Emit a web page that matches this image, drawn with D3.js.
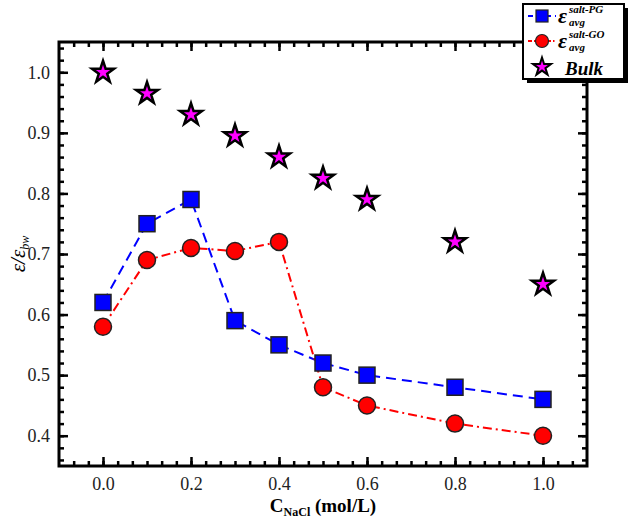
<!DOCTYPE html>
<html><head><meta charset="utf-8">
<script src="https://cdn.jsdelivr.net/npm/d3@7"></script>
<style>body{margin:0;background:#fff}svg{display:block}
svg text{font-family:"Liberation Serif","DejaVu Serif",serif !important}</style>
</head><body>
<svg id="c" width="629" height="520"></svg>
<script>
const xPG = [0, 0.1, 0.2, 0.3, 0.4, 0.5, 0.6, 0.8, 1.0];
const yPG = [0.62, 0.75, 0.79, 0.59, 0.55, 0.52, 0.50, 0.48, 0.46];
const xGO = [0, 0.1, 0.2, 0.3, 0.4, 0.5, 0.6, 0.8, 1.0];
const yGO = [0.58, 0.69, 0.71, 0.705, 0.72, 0.48, 0.45, 0.42, 0.40];
const xBulk = [0, 0.1, 0.2, 0.3, 0.4, 0.5, 0.6, 0.8, 1.0];
const yBulk = [1.0, 0.965, 0.93, 0.895, 0.86, 0.825, 0.79, 0.72, 0.65];
const xTicks = [0, 0.2, 0.4, 0.6, 0.8, 1.0];
const yTicks = [0.4, 0.5, 0.6, 0.7, 0.8, 0.9, 1.0];

const svg = d3.select("#c");
const L = 59, R = 587, T = 42, B = 466;
const x = d3.scaleLinear().domain([-0.1, 1.1]).range([L, R]);
const y = d3.scaleLinear().domain([0.35, 1.05]).range([B, T]);
const font = "Liberation Serif";

const xMinor = d3.range(-0.1, 1.1001, 0.2/6).filter(v => v > -0.099 && v < 1.099);
const yMinor = d3.range(0.36, 1.0401, 0.02);

// bottom
const gb = svg.append("g").attr("transform", `translate(0,${B})`);
gb.call(d3.axisTop(x).tickValues(xMinor).tickSize(5).tickFormat(""));
gb.append("g").call(d3.axisTop(x).tickValues(xTicks).tickSize(9).tickFormat(""));
svg.append("g").attr("transform", `translate(0,${B})`)
  .call(d3.axisBottom(x).tickValues(xTicks).tickSize(0).tickPadding(11).tickFormat(d3.format(".1f")));
// top
const gt = svg.append("g").attr("transform", `translate(0,${T})`);
gt.call(d3.axisBottom(x).tickValues(xMinor).tickSize(5).tickFormat(""));
gt.append("g").call(d3.axisBottom(x).tickValues(xTicks).tickSize(9).tickFormat(""));
// left
const gl = svg.append("g").attr("transform", `translate(${L},0)`);
gl.call(d3.axisRight(y).tickValues(yMinor).tickSize(5).tickFormat(""));
gl.append("g").call(d3.axisRight(y).tickValues(yTicks).tickSize(9).tickFormat(""));
svg.append("g").attr("transform", `translate(${L},0)`)
  .call(d3.axisLeft(y).tickValues(yTicks).tickSize(0).tickPadding(9).tickFormat(d3.format(".1f")));
// right
const gr = svg.append("g").attr("transform", `translate(${R},0)`);
gr.call(d3.axisLeft(y).tickValues(yMinor).tickSize(5).tickFormat(""));
gr.append("g").call(d3.axisLeft(y).tickValues(yTicks).tickSize(9).tickFormat(""));

svg.selectAll(".domain").remove();
svg.selectAll(".tick line").attr("stroke", "#000").attr("stroke-width", 2.5);
svg.selectAll("g").attr("font-family", font);
svg.selectAll(".tick text").attr("font-family", font).attr("font-size", 18).attr("fill", "#222");

svg.append("rect").attr("x", L).attr("y", T).attr("width", R - L).attr("height", B - T)
  .attr("fill", "none").attr("stroke", "#000").attr("stroke-width", 3);

const line = d3.line().x(d => x(d[0])).y(d => y(d[1]));
const pg = xPG.map((v, i) => [v, yPG[i]]);
const go = xGO.map((v, i) => [v, yGO[i]]);
const bulk = xBulk.map((v, i) => [v, yBulk[i]]);
svg.append("path").attr("d", line(pg)).attr("fill", "none").attr("stroke", "#0000ff")
  .attr("stroke-width", 2).attr("stroke-dasharray", "10,6");
svg.append("path").attr("d", line(go)).attr("fill", "none").attr("stroke", "#ff0000")
  .attr("stroke-width", 2).attr("stroke-dasharray", "9,4,2,4");

const star = d3.symbol().type(d3.symbolStar).size(150);
svg.append("g").selectAll("path").data(bulk).join("path")
  .attr("d", star).attr("transform", d => `translate(${x(d[0])},${y(d[1])})`)
  .attr("fill", "#ff00ff").attr("stroke", "#000").attr("stroke-width", 2.5).attr("stroke-linejoin", "miter");
svg.append("g").selectAll("rect").data(pg).join("rect")
  .attr("x", d => x(d[0]) - 8).attr("y", d => y(d[1]) - 8).attr("width", 16).attr("height", 16)
  .attr("fill", "#0000ff").attr("stroke", "#222").attr("stroke-width", 1.5);
svg.append("g").selectAll("circle").data(go).join("circle")
  .attr("cx", d => x(d[0])).attr("cy", d => y(d[1])).attr("r", 8.5)
  .attr("fill", "#ff0000").attr("stroke", "#222").attr("stroke-width", 1.5);

const xt = svg.append("text").attr("x", 323).attr("y", 512).attr("text-anchor", "middle")
  .attr("font-family", font).attr("font-weight", "bold").attr("font-size", 19);
xt.append("tspan").text("C");
xt.append("tspan").attr("font-size", 12).attr("dy", 4).text("NaCl");
xt.append("tspan").attr("dy", -4).text(" (mol/L)");

const yt = svg.append("text").attr("transform", "translate(25,254) rotate(-90)").attr("text-anchor", "middle")
  .attr("font-family", font).attr("font-style", "italic").attr("font-size", 21);
yt.append("tspan").text("ε/ε");
yt.append("tspan").attr("font-size", 12).attr("dy", 4).text("bw");

// legend
const lg = svg.append("g");
lg.append("rect").attr("x", 527).attr("y", 8).attr("width", 101).attr("height", 75).attr("fill", "#000");
lg.append("rect").attr("x", 523).attr("y", 4).attr("width", 101).attr("height", 75)
  .attr("fill", "#fff").attr("stroke", "#000").attr("stroke-width", 2);
lg.append("line").attr("x1", 528).attr("x2", 556).attr("y1", 16).attr("y2", 16)
  .attr("stroke", "#0000ff").attr("stroke-width", 2).attr("stroke-dasharray", "5,4");
lg.append("rect").attr("x", 536).attr("y", 10).attr("width", 12).attr("height", 12)
  .attr("fill", "#0000ff").attr("stroke", "#222").attr("stroke-width", 1.2);
lg.append("line").attr("x1", 528).attr("x2", 556).attr("y1", 41).attr("y2", 41)
  .attr("stroke", "#ff0000").attr("stroke-width", 2).attr("stroke-dasharray", "4,2,1.5,2");
lg.append("circle").attr("cx", 542).attr("cy", 41).attr("r", 6.5)
  .attr("fill", "#ff0000").attr("stroke", "#222").attr("stroke-width", 1.2);
lg.append("path").attr("d", d3.symbol().type(d3.symbolStar).size(100)())
  .attr("transform", "translate(542,67)").attr("fill", "#ff00ff").attr("stroke", "#000").attr("stroke-width", 2);

function epsLabel(yc, sup) {
  lg.append("text").attr("x", 558).attr("y", yc + 7).attr("font-family", font).attr("font-style", "italic")
    .attr("font-weight", "bold").attr("font-size", 22).text("ε");
  lg.append("text").attr("x", 569).attr("y", yc - 3).attr("font-family", font).attr("font-style", "italic")
    .attr("font-weight", "bold").attr("font-size", 11).text(sup);
  lg.append("text").attr("x", 569).attr("y", yc + 10).attr("font-family", font).attr("font-style", "italic")
    .attr("font-weight", "bold").attr("font-size", 11).text("avg");
}
epsLabel(16, "salt-PG");
epsLabel(41, "salt-GO");
lg.append("text").attr("x", 565).attr("y", 75).attr("font-family", font).attr("font-style", "italic")
  .attr("font-weight", "bold").attr("font-size", 19).text("Bulk");
</script>
</body></html>
